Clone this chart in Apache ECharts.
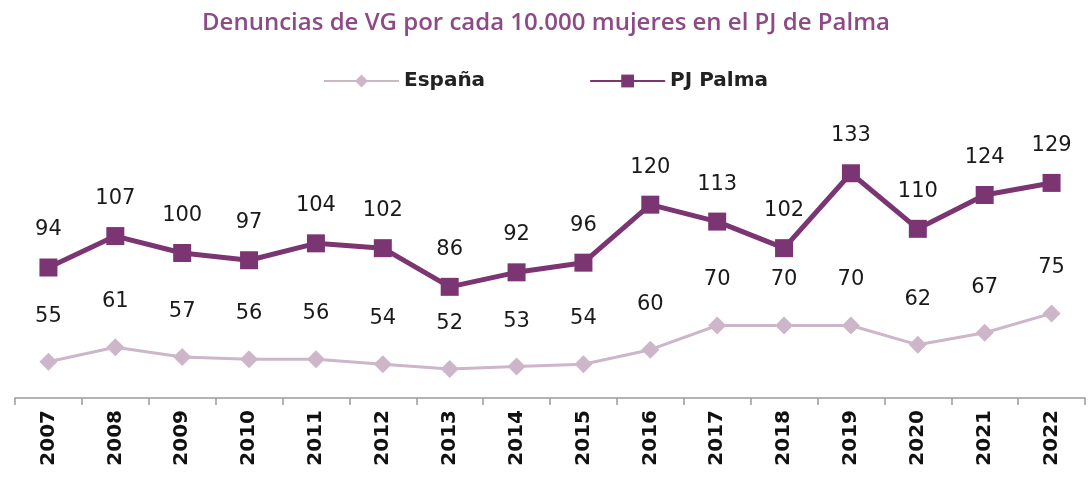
<!DOCTYPE html>
<html><head><meta charset="utf-8">
<script src="https://cdn.jsdelivr.net/npm/echarts@6/dist/echarts.min.js"></script>
<style>html,body{margin:0;padding:0;background:#fff}#c{width:1092px;height:480px}</style>
</head><body><div id="c"></div>
<script>
const years = ['2007','2008','2009','2010','2011','2012','2013','2014','2015','2016','2017','2018','2019','2020','2021','2022'];
const espana = [55,61,57,56,56,54,52,53,54,60,70,70,70,62,67,75];
const palma = [94,107,100,97,104,102,86,92,96,120,113,102,133,110,124,129];
const titleText = 'Denuncias de VG por cada 10.000 mujeres en el PJ de Palma';

const chart = echarts.init(document.getElementById('c'));
const labelStyle = {color:'#1a1a1a', fontSize:21, fontFamily:'DejaVu Sans, sans-serif', fontWeight:'normal'};
chart.setOption({
  animation:false,
  title:{text:titleText,left:'center',top:6,textStyle:{color:'#8d4a87',fontSize:24,fontWeight:600,fontFamily:'Open Sans, sans-serif'}},
  legend:{top:66,left:318,itemGap:104,itemWidth:75,itemHeight:16,
    textStyle:{color:'#222',fontSize:20,fontWeight:'bold',fontFamily:'DejaVu Sans, sans-serif'},
    data:['España','PJ Palma']},
  grid:{left:15,right:7,top:108,bottom:82},
  xAxis:{type:'category',data:years,boundaryGap:true,
    axisLine:{lineStyle:{color:'#9a9a9a',width:1.5}},
    axisTick:{show:true,length:7,lineStyle:{color:'#9a9a9a',width:1.5}},
    axisLabel:{rotate:90,color:'#111',fontSize:20,fontWeight:'bold',fontFamily:'DejaVu Sans, sans-serif',margin:12}},
  yAxis:{type:'value',min:40,max:160,show:false,splitLine:{show:false}},
  series:[
    {name:'España',type:'line',data:espana,symbol:'diamond',symbolSize:18,
      itemStyle:{color:'#cdb6c9'},lineStyle:{color:'#cdb6c9',width:3},
      label:{show:true,position:'top',distance:26,...labelStyle}},
    {name:'PJ Palma',type:'line',data:palma,symbol:'rect',symbolSize:18,
      itemStyle:{color:'#7c3573'},lineStyle:{color:'#7c3573',width:5},
      label:{show:true,position:'top',distance:18,...labelStyle}}
  ]
});
</script></body></html>
